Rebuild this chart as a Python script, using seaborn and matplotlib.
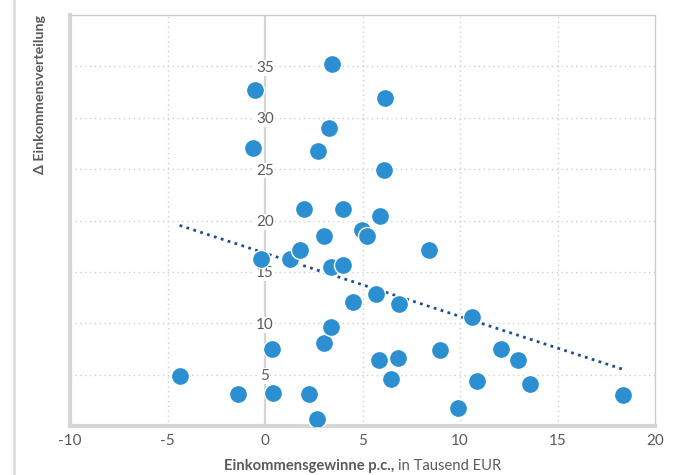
import numpy as np
import pandas as pd
import matplotlib
matplotlib.use("Agg")
import matplotlib.pyplot as plt
import seaborn as sns

# Data
income_gain = [-4.38, -1.40, -0.51, -0.62, -0.22, 0.34, 0.43, 1.28, 1.79, 2.00,
               2.26, 2.68, 2.70, 3.03, 3.03, 3.28, 3.38, 3.40, 3.45, 4.02,
               3.98, 4.53, 4.96, 5.21, 5.69, 5.83, 5.91, 6.14, 6.10, 6.44,
               6.82, 6.89, 8.39, 8.97, 9.88, 10.60, 10.89, 12.10, 12.99, 13.60,
               18.34]
delta_dist = [4.9, 3.1, 32.7, 27.1, 16.3, 7.5, 3.2, 16.3, 17.1, 21.1,
              3.1, 0.7, 26.8, 8.05, 18.45, 29.05, 9.6, 15.45, 35.2, 15.7,
              21.15, 12.1, 19.1, 18.45, 12.85, 6.4, 20.45, 31.9, 24.9, 4.6,
              6.65, 11.9, 17.1, 7.4, 1.72, 10.6, 4.4, 7.5, 6.4, 4.06,
              3.0]
x_ticks = [-10, -5, 0, 5, 10, 15, 20]
y_ticks = [5, 10, 15, 20, 25, 30, 35]

df = pd.DataFrame({"x": income_gain, "y": delta_dist})

sns.set_theme(style="white")
plt.rcParams['font.family'] = ['Lato', 'DejaVu Sans']

fig = plt.figure(figsize=(6.91, 4.75), dpi=100)
ax = fig.add_axes([70/691, 49/475, (655-70)/691, (426-15)/475])

grid_c = "#cfcfcf"
text_c = "#5a5a5a"
fs = 11

# gridlines
for xv in [-5, 5, 10, 15]:
    ax.axvline(xv, color=grid_c, lw=1.0, ls=(0, (1, 2.5)), zorder=0)
for yv in y_ticks:
    ax.axhline(yv, color=grid_c, lw=1.0, ls=(0, (1, 2.5)), zorder=0)
ax.axvline(0, color="#d4d4d4", lw=1.6, zorder=0.5)

sns.regplot(data=df, x="x", y="y", ax=ax, scatter=False, ci=None, truncate=True,
            line_kws=dict(color="#1d4f8e", lw=2.0, ls=(0, (1, 1.6)), zorder=2))
sns.scatterplot(data=df, x="x", y="y", ax=ax, s=170, color="#2b8fd1",
                edgecolor="white", linewidth=1.0, zorder=3)

ax.set_xlim(-10, 20)
ax.set_ylim(0, 40)
ax.set_xticks(x_ticks)
ax.set_xticklabels([str(v) for v in x_ticks], color=text_c, fontsize=fs)
ax.set_yticks([])
ax.tick_params(axis="x", length=0, pad=6)
ax.set_xlabel("")
ax.set_ylabel("")

for yv in y_ticks:
    ax.text(0, yv - 0.15, str(yv), ha="center", va="center", fontsize=fs,
            color=text_c, zorder=1,
            bbox=dict(facecolor="white", edgecolor="none", pad=0.6))

for side in ["top", "right"]:
    ax.spines[side].set_color("#cccccc")
    ax.spines[side].set_linewidth(1.0)
for side in ["left", "bottom"]:
    ax.spines[side].set_color("#d6d6d6")
    ax.spines[side].set_linewidth(3.0)

# axis titles
fig.text(40/691, 1 - 15/475, "Δ Einkommensverteilung", rotation=90, ha="center",
         va="top", fontsize=10.3, fontweight="bold", color=text_c)

ylab = 1 - 466/475
t1 = fig.text(0, ylab, "Einkommensgewinne p.c.,", ha="left", va="center",
              fontsize=10.6, fontweight="bold", color=text_c)
t2 = fig.text(0, ylab, "in Tausend EUR", ha="left", va="center",
              fontsize=10.6, color=text_c)
fig.canvas.draw()
w1 = t1.get_window_extent().width
w2 = t2.get_window_extent().width
gap = 4
total = w1 + gap + w2
x0 = 363 - total / 2
t1.set_x(x0 / 691)
t2.set_x((x0 + w1 + gap) / 691)

# decorative left frame line
fig.add_artist(plt.Line2D([14/691, 14/691], [0, 1], color="#dddddd", lw=2,
                          transform=fig.transFigure))

fig.savefig("out.png", dpi=100)
